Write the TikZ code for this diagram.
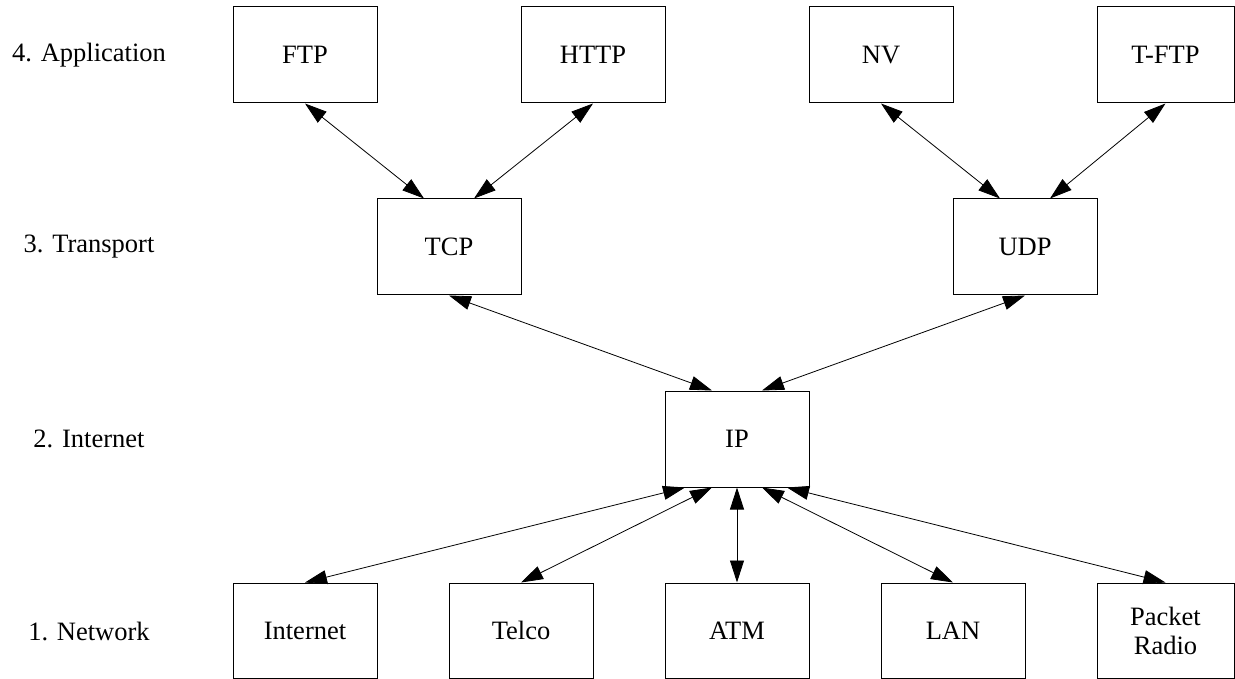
\documentclass[tikz,border=0pt]{standalone}
\usepackage{fontspec}
\setmainfont{Liberation Serif}
\usetikzlibrary{arrows.meta}
\begin{document}
\begin{tikzpicture}[x=1pt,y=-1pt,
  every node/.style={font=\fontsize{26.5}{29}\selectfont},
  layer/.style={draw=black, line width=1pt, minimum width=144pt, minimum height=96pt,
                inner sep=0pt, align=center},
  edgebox/.style={layer, minimum width=137pt},
  lowbox/.style={layer, minimum height=95pt},
  lowedge/.style={lowbox, minimum width=137pt},
  layername/.style={anchor=center},
  link/.style={line width=0.8pt, {Triangle[length=22pt,width=14pt]}-{Triangle[length=22pt,width=14pt]}}
]
\useasboundingbox (0,0) rectangle (1235,679);

% layer captions
\node[layername] (l4) at (89,55)  {4. Application};
\node[layername] (l3) at (89,247) {3. Transport};
\node[layername] (l2) at (89,439) {2. Internet};
\node[layername] (l1) at (89,631) {1. Network};

% application layer
\node[layer]    (ftp)  at (305,55)    {FTP};
\node[layer]    (http) at (593,55)    {HTTP};
\node[layer]    (nv)   at (881,55)    {NV};
\node[edgebox]  (tftp) at (1165.5,55) {T-FTP};

% transport layer
\node[layer] (tcp) at (449,247)  {TCP};
\node[layer] (udp) at (1025,247) {UDP};

% internet layer
\node[layer] (ip) at (737,439) {IP};

% network layer
\node[lowbox]   (inet)  at (305,630.5)    {Internet};
\node[lowbox]   (telco) at (521,630.5)    {Telco};
\node[lowbox]   (atm)   at (737,630.5)    {ATM};
\node[lowbox]   (lan)   at (953,630.5)    {LAN};
\node[lowedge]  (radio) at (1165.5,630.5) {Packet\\Radio};

% application <-> transport
\draw[link] (ftp.south)  -- ([xshift=-25pt]tcp.north);
\draw[link] (http.south) -- ([xshift=25pt]tcp.north);
\draw[link] (nv.south)   -- ([xshift=-25pt]udp.north);
\draw[link] (tftp.south) -- ([xshift=25pt]udp.north);

% transport <-> internet
\draw[link] (tcp.south) -- ([xshift=-25pt]ip.north);
\draw[link] (udp.south) -- ([xshift=25pt]ip.north);

% internet <-> network
\draw[link] ([xshift=-52pt]ip.south) -- (inet.north);
\draw[link] ([xshift=-25pt]ip.south) -- (telco.north);
\draw[link] (ip.south) -- (atm.north);
\draw[link] ([xshift=25pt]ip.south)  -- (lan.north);
\draw[link] ([xshift=50pt]ip.south)  -- (radio.north);
\end{tikzpicture}
\end{document}
